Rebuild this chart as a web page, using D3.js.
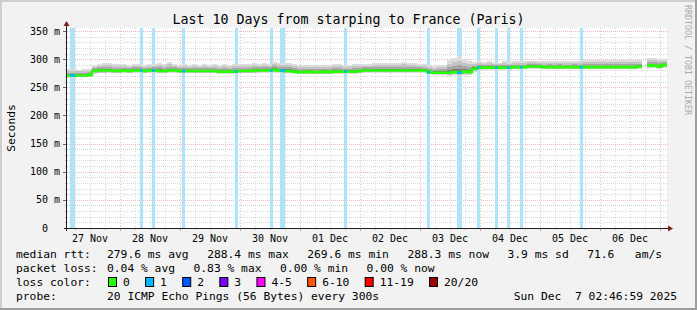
<!DOCTYPE html>
<html>
<head>
<meta charset="utf-8">
<script src="https://cdn.jsdelivr.net/npm/d3@7"></script>
<style>
    body { margin: 0; background: #f2f2f2; }
    svg text { font-family: "DejaVu Sans Mono", monospace; white-space: pre; }
</style>
</head>
<body>
<script>
// Values (ms), one value per 2 hour bin
const startTime = Date.UTC(2025, 10, 27, 2, 46, 59);
const endTime = Date.UTC(2025, 11, 7, 2, 46, 59);
const binHours = 2;

const medianRtt = [
    271, 271, 271, 271, 272, 279, 280, 280, 280, 279,
    279, 280, 279, 280, 280, 279, 280, 280, 279, 279,
    280, 280, 279, 279, 279, 279, 279, 279, 279, 279,
    278, 278, 278, 278, 279, 279, 279, 280, 280, 280,
    280, 281, 280, 279, 279, 278, 277, 277, 278, 277,
    277, 278, 277, 278, 278, 278, 278, 278, 279, 280,
    280, 280, 280, 280, 280, 280, 280, 280, 280, 280,
    280, 280, 277, 276, 276, 276, 276, 277, 276, 278,
    277, 283, 285, 285, 285, 285, 285, 285, 285, 286,
    286, 286, 287, 287, 287, 286, 286, 286, 286, 286,
    286, 286, 286, 286, 286, 286, 286, 286, 286, 286,
    286, 286, 286, 286, 287, null, 289, 289, 287, 290
];
const smokeHigh = [
    283, 282, 281, 282, 283, 290, 292, 293, 293, 291,
    292, 291, 290, 292, 292, 290, 291, 292, 294, 292,
    295, 292, 290, 291, 290, 291, 290, 291, 290, 291,
    290, 291, 290, 291, 292, 291, 292, 293, 292, 293,
    292, 295, 294, 293, 293, 291, 289, 289, 289, 290,
    289, 290, 289, 291, 292, 290, 290, 291, 292, 292,
    292, 293, 293, 293, 294, 293, 294, 295, 294, 293,
    292, 291, 289, 288, 289, 290, 298, 303, 306, 300,
    297, 295, 296, 295, 296, 295, 294, 296, 295, 296,
    296, 296, 297, 297, 296, 296, 297, 296, 297, 296,
    296, 297, 296, 298, 299, 299, 298, 298, 298, 298,
    298, 298, 298, 298, 298, null, 302, 302, 300, 300
];
const smokeLow = [
    267, 267, 268, 268, 268, 274, 275, 275, 276, 275,
    275, 276, 275, 276, 276, 275, 276, 276, 275, 275,
    276, 276, 275, 275, 275, 275, 275, 275, 275, 275,
    274, 274, 274, 274, 275, 275, 275, 275, 276, 276,
    276, 276, 276, 275, 275, 274, 273, 273, 273, 273,
    273, 273, 273, 274, 274, 274, 274, 274, 275, 276,
    276, 276, 276, 276, 276, 276, 276, 276, 276, 276,
    276, 276, 273, 272, 272, 272, 271, 272, 271, 272,
    272, 277, 281, 281, 281, 281, 281, 281, 281, 282,
    282, 282, 283, 283, 283, 282, 282, 282, 282, 282,
    282, 282, 282, 282, 282, 282, 282, 282, 282, 282,
    282, 282, 282, 282, 283, null, 284, 284, 283, 285
];

// [hours after start, duration in hours, pings lost of 20]
const lossEvents = [
    [1.2, 2, 1], [29.2, 1, 1], [34, 1.2, 1], [46, 1.2, 1], [67.2, 1, 1],
    [81.2, 1, 1], [85.2, 2, 1], [110.8, 1.2, 1], [144, 1.2, 1], [156, 2, 1],
    [164, 1, 1], [171.2, 1, 1], [176, 1.2, 1], [181.2, 1, 1], [205.2, 1, 1]
];

const yMinorTicks = d3.range(10, 360, 10);
const yLabelTicks = [0, 50, 100, 150, 200, 250, 300, 350];

const rttStats = ["279.6 ms avg", "288.4 ms max", "269.6 ms min", "288.3 ms now", "3.9 ms sd", "71.6   am/s"];
const lossStats = ["0.04 % avg", "0.83 % max", "0.00 % min", "0.00 % now"];
const lossNames = ["0", "1", "2", "3", "4-5", "6-10", "11-19", "20/20"];
const lossColors = ["#26ff00", "#00b8ff", "#0059ff", "#7e00ff", "#ff00ff", "#ff5500", "#ff0000", "#a00000"];
const probeText = "20 ICMP Echo Pings (56 Bytes) every 300s";
const stampText = "Sun Dec  7 02:46:59 2025";
const titleText = "Last 10 Days from starping to France (Paris)";

window.onload = function () {
    const width = 697, height = 310;
    const left = 67, right = 667, top = 28, bottom = 228;

    const svg = d3.select("body").append("svg")
        .attr("width", width)
        .attr("height", height);

    //Background and the 3d frame
    svg.append("rect").attr("width", width).attr("height", height).attr("fill", "#f2f2f2");
    svg.append("rect").attr("width", width).attr("height", 2).attr("fill", "#cfcfcf");
    svg.append("rect").attr("width", 2).attr("height", height).attr("fill", "#cfcfcf");
    svg.append("rect").attr("y", height - 2).attr("width", width).attr("height", 2).attr("fill", "#9e9e9e");
    svg.append("rect").attr("x", width - 2).attr("width", 2).attr("height", height).attr("fill", "#9e9e9e");

    //Canvas
    svg.append("rect")
        .attr("x", left).attr("y", top)
        .attr("width", right - left).attr("height", bottom - top)
        .attr("fill", "#ffffff");

    const x = d3.scaleUtc().domain([startTime, endTime]).range([left, right]);
    const y = d3.scaleLinear().domain([0, 355.5]).range([bottom, top]);

    const hour = 3600 * 1000;
    const bins = medianRtt.map((m, k) => ({
        t0: startTime + k * binHours * hour,
        t1: startTime + (k + 1) * binHours * hour,
        med: m, hi: smokeHigh[k], lo: smokeLow[k]
    }));

    //Grid
    const minorColor = "rgba(143,143,143,0.32)";
    const majorColor = "rgba(222,79,79,0.38)";
    const grid = svg.append("g").attr("shape-rendering", "crispEdges");
    yMinorTicks.forEach(v => {
        const major = v % 50 === 0;
        const yy = Math.round(y(v)) + 0.5;
        grid.append("line")
            .attr("x1", left).attr("x2", right + 1)
            .attr("y1", yy).attr("y2", yy)
            .attr("stroke", major ? majorColor : minorColor)
            .attr("stroke-dasharray", "1,1");
        grid.append("line")
            .attr("x1", major ? 63 : 65).attr("x2", left)
            .attr("y1", yy).attr("y2", yy)
            .attr("stroke", major ? "#666" : "#bbb");
    });
    const sixHours = d3.utcHour.every(6).range(new Date(startTime), new Date(endTime));
    sixHours.forEach(t => {
        const major = t.getUTCHours() === 0;
        const xx = Math.round(x(t)) + 0.5;
        grid.append("line")
            .attr("x1", xx).attr("x2", xx)
            .attr("y1", top).attr("y2", bottom)
            .attr("stroke", major ? majorColor : minorColor)
            .attr("stroke-dasharray", "1,2");
        grid.append("line")
            .attr("x1", xx).attr("x2", xx)
            .attr("y1", bottom).attr("y2", bottom + (major ? 3 : 2))
            .attr("stroke", major ? "rgba(222,79,79,0.6)" : "#bbb");
    });

    //Loss background bars
    svg.append("g").attr("shape-rendering", "crispEdges")
        .selectAll("rect")
        .data(lossEvents)
        .join("rect")
        .attr("x", d => x(startTime + d[0] * hour))
        .attr("width", d => x(startTime + (d[0] + d[1]) * hour) - x(startTime + d[0] * hour))
        .attr("y", top)
        .attr("height", bottom - top)
        .attr("fill", "#aee4fa");

    //Smoke, darker towards the median
    const smokeLevels = [1, 0.72, 0.45, 0.2];
    const smokeGreys = ["#dcdcdc", "#c4c4c4", "#a6a6a6", "#7a7a7a"];
    const present = bins.filter(d => d.med !== null);
    smokeLevels.forEach((f, i) => {
        svg.append("g").attr("shape-rendering", "crispEdges")
            .selectAll("rect")
            .data(present)
            .join("rect")
            .attr("x", d => x(d.t0))
            .attr("width", d => x(d.t1) - x(d.t0))
            .attr("y", d => y(d.med + (d.hi - d.med) * f))
            .attr("height", d => y(d.med - (d.med - d.lo) * f) - y(d.med + (d.hi - d.med) * f))
            .attr("fill", smokeGreys[i]);
    });

    //Median line as steps
    const steps = [];
    bins.forEach(d => {
        steps.push({t: d.t0, v: d.med});
        steps.push({t: d.t1, v: d.med});
    });
    const line = d3.line()
        .defined(d => d.v !== null)
        .x(d => x(d.t))
        .y(d => y(d.v));
    svg.append("path")
        .attr("d", line(steps))
        .attr("fill", "none")
        .attr("stroke", lossColors[0])
        .attr("stroke-width", 2.6);

    //Median coloured by loss where pings went missing
    lossEvents.forEach(d => {
        const k = Math.min(Math.floor(d[0] / binHours), medianRtt.length - 1);
        const v = medianRtt[k];
        if (v === null) return;
        svg.append("line")
            .attr("x1", x(startTime + d[0] * hour))
            .attr("x2", x(startTime + (d[0] + d[1]) * hour))
            .attr("y1", y(v)).attr("y2", y(v))
            .attr("stroke", lossColors[d[2]])
            .attr("stroke-width", 2.6);
    });

    //Axes and arrows
    svg.append("line")
        .attr("x1", 64).attr("x2", 669)
        .attr("y1", bottom + 0.5).attr("y2", bottom + 0.5)
        .attr("stroke", "#1f1f1f");
    svg.append("line")
        .attr("x1", left - 0.5).attr("x2", left - 0.5)
        .attr("y1", bottom + 3).attr("y2", 24)
        .attr("stroke", "#1f1f1f");
    svg.append("path")
        .attr("d", "M63.5,26L69.5,26L66.5,21Z")
        .attr("fill", "#801f1f");
    svg.append("path")
        .attr("d", "M668,225.5L668,231.5L673,228.5Z")
        .attr("fill", "#801f1f");

    //Y labels
    svg.append("g")
        .selectAll("text")
        .data(yLabelTicks)
        .join("text")
        .attr("x", 60)
        .attr("y", d => y(d) + 3.5)
        .attr("text-anchor", "end")
        .attr("font-size", "10px")
        .attr("fill", "#000")
        .text(d => d === 0 ? "0  " : d + " m");

    //Day labels at noon
    const noons = d3.utcDay.range(d3.utcDay.floor(new Date(startTime)), new Date(endTime))
        .map(t => new Date(t.getTime() + 12 * hour))
        .filter(t => t.getTime() > startTime && t.getTime() < endTime);
    const dayFormat = d3.utcFormat("%d %b");
    svg.append("g")
        .selectAll("text")
        .data(noons)
        .join("text")
        .attr("x", d => x(d))
        .attr("y", 242)
        .attr("text-anchor", "middle")
        .attr("font-size", "10px")
        .text(d => dayFormat(d));

    //Title, vertical label, watermark
    svg.append("text")
        .attr("x", 348.5).attr("y", 24)
        .attr("text-anchor", "middle")
        .attr("font-size", "13.3px")
        .text(titleText);
    svg.append("text")
        .attr("transform", "translate(15,128) rotate(-90)")
        .attr("text-anchor", "middle")
        .attr("font-size", "11.3px")
        .text("Seconds");
    svg.append("text")
        .attr("transform", "translate(685,5) rotate(90)")
        .attr("font-size", "8.3px")
        .attr("fill", "#aaaaaa")
        .text("RRDTOOL / TOBI OETIKER");

    //Legend
    const legend = svg.append("g").attr("font-size", "11.3px");
    const gap = 18.5;
    const row = function (label, items, yy) {
        legend.append("text").attr("x", 16).attr("y", yy).text(label);
        let cursor = 107;
        items.forEach(s => {
            const t = legend.append("text").attr("x", cursor).attr("y", yy).text(s);
            cursor += t.node().getComputedTextLength() + gap;
        });
    };
    row("median rtt:", rttStats, 258);
    row("packet loss:", lossStats, 272);

    legend.append("text").attr("x", 16).attr("y", 286).text("loss color:");
    let cursor = 107;
    lossNames.forEach((name, i) => {
        legend.append("rect")
            .attr("x", cursor + 1.5).attr("y", 277.5)
            .attr("width", 8).attr("height", 9)
            .attr("fill", lossColors[i])
            .attr("stroke", "#000");
        const t = legend.append("text").attr("x", cursor + 16).attr("y", 286).text(name);
        cursor += 16 + t.node().getComputedTextLength() + 14.3;
    });

    legend.append("text").attr("x", 16).attr("y", 300).text("probe:");
    legend.append("text").attr("x", 107).attr("y", 300).text(probeText);
    legend.append("text").attr("x", 677).attr("y", 300).attr("text-anchor", "end").text(stampText);
};
</script>
</body>
</html>
